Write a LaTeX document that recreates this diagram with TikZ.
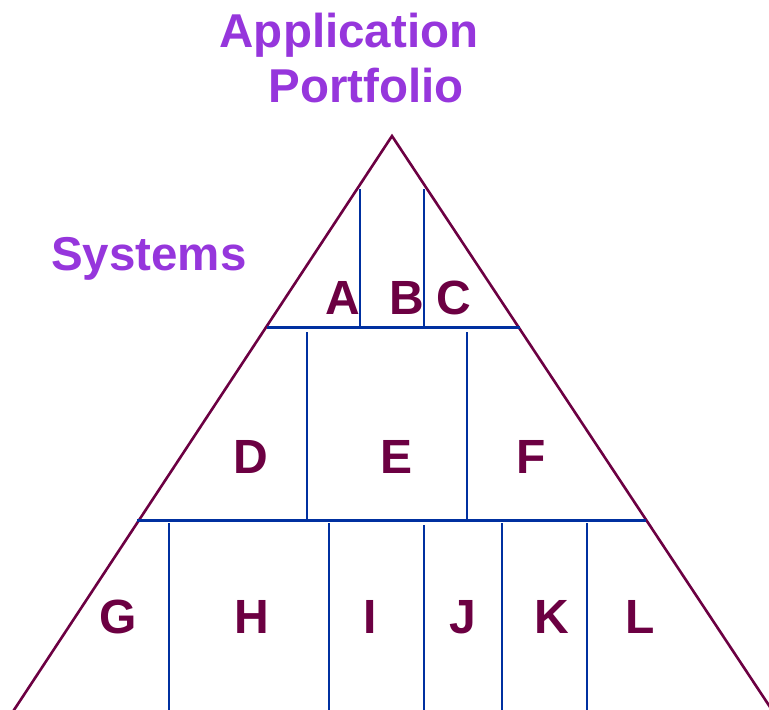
\documentclass[tikz,border=0pt]{standalone}
\usepackage{fontspec}
\setmainfont{Liberation Sans}
\definecolor{ttl}{RGB}{150,54,220}
\definecolor{mar}{RGB}{108,0,66}
\definecolor{blu}{RGB}{0,48,160}
\begin{document}
\begin{tikzpicture}[x=1pt,y=-1pt,
  title/.style={text=ttl,font=\bfseries\fontsize{47.5}{50}\selectfont,inner sep=0pt,anchor=base},
  lab/.style={text=mar,font=\bfseries\fontsize{48}{50}\selectfont,inner sep=0pt,anchor=base},
  edge/.style={draw=mar,line width=2.6pt},
  div/.style={draw=blu,line width=3pt},
  vdiv/.style={draw=blu,line width=2.4pt}]
\useasboundingbox (0,0) rectangle (769,710);
\begin{scope}
\clip (0,0) rectangle (769,710);
\coordinate (apex) at (392,136);
\coordinate (bl) at (12,713);
\coordinate (br) at (774,713);
\draw[edge,line join=miter] (bl) -- (apex) -- (br);
\end{scope}
% horizontal dividers
\coordinate (h1l) at (267,327.5); \coordinate (h1r) at (520,327.5);
\coordinate (h2l) at (137,520); \coordinate (h2r) at (646,520);
\draw[div] (h1l) -- (h1r);
\draw[div] (h2l) -- (h2r);
% top tier verticals
\coordinate (v1t) at (360,189); \coordinate (v1b) at (360,327.5);
\coordinate (v2t) at (424,189); \coordinate (v2b) at (424,327.5);
\draw[vdiv] (v1t) -- (v1b);
\draw[vdiv] (v2t) -- (v2b);
% middle tier verticals
\coordinate (v3t) at (307,332); \coordinate (v3b) at (307,520);
\coordinate (v4t) at (467,332); \coordinate (v4b) at (467,520);
\draw[vdiv] (v3t) -- (v3b);
\draw[vdiv] (v4t) -- (v4b);
% bottom tier verticals
\foreach \n/\x/\t in {a/169/523,b/329/523,c/424/525,d/502/523,e/587/523}{
  \coordinate (b\n t) at (\x,\t);
  \coordinate (b\n b) at (\x,710);
  \draw[vdiv] (b\n t) -- (b\n b);
}
% titles
\node[title] (app) at (349,47) {Application};
\node[title] (port) at (366,102) {Portfolio};
\node[title,anchor=base west] (sys) at (51,270) {Systems};
% labels
\node[lab] (A) at (343,314) {A};
\node[lab] (B) at (407,314) {B};
\node[lab] (C) at (454,314) {C};
\node[lab] (D) at (251,473) {D};
\node[lab] (E) at (397,473) {E};
\node[lab] (F) at (531,473) {F};
\node[lab] (G) at (118,633) {G};
\node[lab] (H) at (252,633) {H};
\node[lab] (I) at (370,633) {I};
\node[lab] (J) at (463,633) {J};
\node[lab] (K) at (552,633) {K};
\node[lab] (L) at (640,633) {L};
\end{tikzpicture}
\end{document}
